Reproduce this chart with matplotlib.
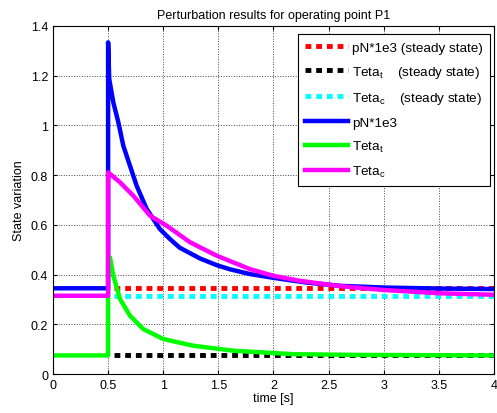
import numpy as np
import matplotlib
matplotlib.use('Agg')
import matplotlib.pyplot as plt

plt.rcParams['font.family'] = ['Liberation Sans', 'DejaVu Sans']
plt.rcParams['mathtext.default'] = 'regular'

# values
t_pn = [0, 0.5, 0.5, 0.51, 0.547, 0.593, 0.638, 0.698, 0.759, 0.85, 0.97, 1.061, 1.15,
        1.333, 1.485, 1.6, 1.787, 2.0, 2.3, 2.6, 3.0, 3.5, 4.0]
pn = [0.345, 0.345, 1.334, 1.187, 1.093, 1.012, 0.918, 0.838, 0.757, 0.664, 0.583, 0.543, 0.508,
      0.465, 0.438, 0.422, 0.402, 0.387, 0.368, 0.355, 0.348, 0.344, 0.342]

t_tt = [0, 0.5, 0.5, 0.517, 0.547, 0.608, 0.698, 0.819, 1.0, 1.273, 1.635, 2.18, 2.8, 3.4, 4.0]
teta_t = [0.075, 0.075, 0.472, 0.469, 0.396, 0.302, 0.235, 0.181, 0.141, 0.114, 0.094, 0.08,
          0.077, 0.076, 0.075]

t_tc = [0, 0.5, 0.5, 0.608, 0.729, 0.88, 1.03, 1.243, 1.485, 1.787, 2.0, 2.24, 2.6, 3.0, 3.5, 4.0]
teta_c = [0.315, 0.315, 0.811, 0.771, 0.717, 0.637, 0.597, 0.53, 0.476, 0.422, 0.395, 0.375,
          0.354, 0.338, 0.325, 0.319]

t_ss = [0.55, 4.0]
pn_ss = 0.345
tt_ss = 0.075
tc_ss = 0.315

xticks = [0, 0.5, 1, 1.5, 2, 2.5, 3, 3.5, 4]
xlabels = ['0', '0.5', '1', '1.5', '2', '2.5', '3', '3.5', '4']
yticks = [0, 0.2, 0.4, 0.6, 0.8, 1.0, 1.2, 1.4]
ylabels = ['0', '0.2', '0.4', '0.6', '0.8', '1', '1.2', '1.4']

fig = plt.figure(figsize=(4.97, 4.14), dpi=100)
ax = fig.add_axes([0.1066, 0.094, 0.8874, 0.841])

dots = (0, (1.2, 1.0))
ax.plot(t_ss, [pn_ss] * 2, color='red', lw=3.5, ls=dots, label='pN*1e3 (steady state)')
ax.plot(t_ss, [tt_ss] * 2, color='black', lw=3.5, ls=dots, label='Teta$_t$    (steady state)')
ax.plot(t_ss, [tc_ss] * 2, color='cyan', lw=3.5, ls=dots, label='Teta$_c$    (steady state)')
ax.plot(t_pn, pn, color='blue', lw=3.2, label='pN*1e3')
ax.plot(t_tt, teta_t, color='#00ff00', lw=3.2, label='Teta$_t$')
ax.plot(t_tc, teta_c, color='magenta', lw=3.2, label='Teta$_c$')

ax.set_xlim(0, 4)
ax.set_ylim(0, 1.4)
ax.set_xticks(xticks)
ax.set_xticklabels(xlabels)
ax.set_yticks(yticks)
ax.set_yticklabels(ylabels)
ax.tick_params(direction='in', top=True, right=True, labelsize=9, length=3)
ax.grid(True, color='#444444', ls=':', lw=0.7)

ax.set_title('Perturbation results for operating point P1', fontsize=9)
ax.set_xlabel('time [s]', fontsize=9, labelpad=1)
ax.set_ylabel('State variation', fontsize=9)

leg = ax.legend(loc='upper right', bbox_to_anchor=(0.992, 0.977), borderaxespad=0,
                fontsize=9.7, handlelength=3.2, handletextpad=0.3, fancybox=False,
                framealpha=1, edgecolor='black', labelspacing=0.75, borderpad=0.55)
leg.get_frame().set_linewidth(0.8)

fig.savefig('out.png', dpi=100)
